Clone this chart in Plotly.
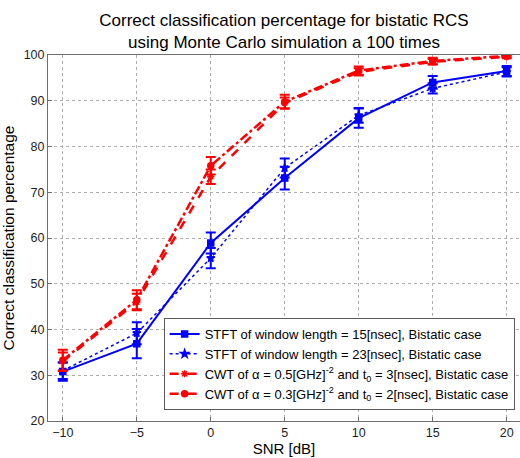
import plotly.graph_objects as go

snr = [-10, -5, 0, 5, 10, 15, 20]

stft15 = [30.8, 36.9, 58.9, 73.1, 86.2, 94.0, 96.5]
stft15_err = [2.0, 3.2, 2.3, 2.5, 2.1, 1.4, 1.1]

stft23 = [31.0, 39.2, 55.6, 75.3, 86.8, 92.7, 96.3]
stft23_err = [1.8, 2.4, 2.2, 2.1, 1.6, 1.1, 1.0]

cwt05 = [33.0, 46.0, 73.4, 89.5, 96.3, 98.5, 99.6]
cwt05_err = [2.0, 1.8, 1.6, 1.2, 0.8, 0.6, 0.3]

cwt03 = [33.3, 46.5, 75.8, 89.8, 96.6, 98.7, 99.8]
cwt03_err = [2.3, 2.1, 1.9, 1.5, 0.9, 0.7, 0.3]

names = [
    "STFT of window length = 15[nsec], Bistatic case",
    "STFT of window length = 23[nsec], Bistatic case",
    "CWT of \u03b1 = 0.5[GHz]<sup>-2</sup> and t<sub>0</sub> = 3[nsec], Bistatic case",
    "CWT of \u03b1 = 0.3[GHz]<sup>-2</sup> and t<sub>0</sub> = 2[nsec], Bistatic case",
]

BLUE = "rgb(0,0,255)"
RED = "rgb(255,0,0)"
FONT = "Arial, Liberation Sans, sans-serif"

fig = go.Figure()

def add(y, err, name, color, dash, symbol, width, size):
    fig.add_trace(go.Scatter(
        x=snr, y=y, name=name, mode="lines+markers",
        line=dict(color=color, width=width, dash=dash),
        marker=dict(symbol=symbol, size=size, color=color,
                    line=dict(color=color, width=1.5)),
        error_y=dict(type="data", array=err, visible=True, color=color,
                     thickness=2, width=5),
    ))

add(stft15, stft15_err, names[0], BLUE, "solid", "square", 2, 6)
add(stft23, stft23_err, names[1], BLUE, "dot", "star", 1.5, 6)
add(cwt05, cwt05_err, names[2], RED, "dash", "asterisk", 2.5, 6)
add(cwt03, cwt03_err, names[3], RED, "dashdot", "circle", 2.5, 6)

axis_common = dict(
    showline=True, linecolor="rgb(110,110,110)", linewidth=1, mirror=True,
    ticks="inside", ticklen=4, tickcolor="rgb(110,110,110)",
    showgrid=True, gridcolor="rgb(175,175,175)", griddash="dot", gridwidth=1,
    zeroline=False,
    tickfont=dict(family=FONT, size=12.5, color="rgb(30,30,30)"),
)

fig.update_layout(
    width=520, height=458,
    margin=dict(l=48, r=0, t=55, b=37),
    paper_bgcolor="white", plot_bgcolor="white",
    font=dict(family=FONT, color="black"),
    title=dict(
        text="Correct classification percentage for bistatic RCS<br>using Monte Carlo simulation a 100 times",
        x=0.5, xref="paper", xanchor="center",
        y=0.944, yref="container", yanchor="top",
        font=dict(size=17, color="black"),
    ),
    xaxis=dict(range=[-11, 20.9], tickvals=snr, title=dict(text="SNR [dB]", standoff=4,
               font=dict(size=15)), **axis_common),
    yaxis=dict(range=[20, 100], dtick=10, title=dict(text="Correct classification percentage",
               standoff=6, font=dict(size=15.5)), **axis_common),
    legend=dict(
        x=0.245, y=0.03, xanchor="left", yanchor="bottom",
        bgcolor="white", bordercolor="rgb(90,90,90)", borderwidth=1,
        font=dict(size=13, color="black"),
        tracegroupgap=0, itemwidth=30,
    ),
    showlegend=True,
)

fig.write_html("out.html")
